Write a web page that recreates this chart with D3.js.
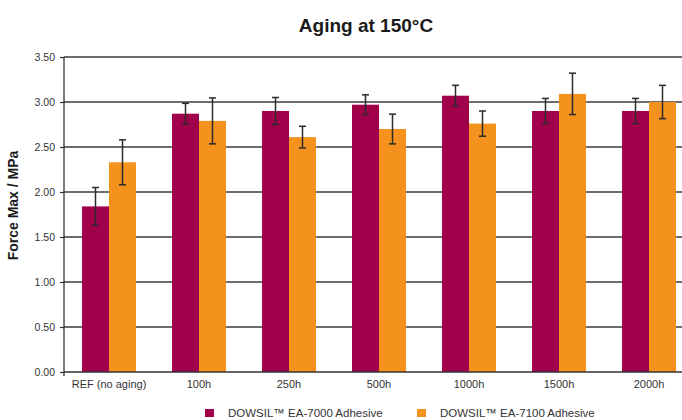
<!DOCTYPE html>
<html>
<head>
<meta charset="utf-8">
<script src="https://cdn.jsdelivr.net/npm/d3@7/dist/d3.min.js"></script>
<style>
  html, body { margin: 0; padding: 0; background: #fff; }
  svg { display: block; font-family: "Liberation Sans", Arial, Helvetica, sans-serif; }
</style>
</head>
<body>
<svg id="chart" width="682" height="420"></svg>
<script>
const categories = ["REF (no aging)", "100h", "250h", "500h", "1000h", "1500h", "2000h"];
const seriesNames = ["DOWSIL\u2122 EA-7000 Adhesive", "DOWSIL\u2122 EA-7100 Adhesive"];
const seriesColors = ["#A1004B", "#F5921E"];
const ea7000 = [1.84, 2.87, 2.90, 2.97, 3.07, 2.90, 2.90];
const ea7000Err = [0.21, 0.115, 0.15, 0.11, 0.115, 0.14, 0.14];
const ea7100 = [2.33, 2.79, 2.61, 2.70, 2.76, 3.09, 3.00];
const ea7100Err = [0.25, 0.255, 0.12, 0.165, 0.14, 0.23, 0.185];
const yTicks = [0, 0.5, 1.0, 1.5, 2.0, 2.5, 3.0, 3.5];
const title = "Aging at 150\u00B0C";
const yLabel = "Force Max / MPa";

(function () {
const values = [ea7000, ea7100];
const errors = [ea7000Err, ea7100Err];

const svg = d3.select("#chart");
const pLeft = 64, pRight = 682, pTop = 57, pBottom = 372;

const x0 = d3.scaleBand().domain(categories).range([pLeft, pLeft + 90 * categories.length]).padding(0);
const x1 = d3.scaleBand().domain(seriesNames).range([0, x0.bandwidth()]).paddingInner(0).paddingOuter(2 / 3);
const y = d3.scaleLinear().domain([0, 3.5]).range([pBottom, pTop]);

// Title
svg.append("text")
  .attr("x", 366).attr("y", 32)
  .attr("text-anchor", "middle")
  .attr("font-size", 19).attr("font-weight", "bold").attr("fill", "#1a1a1a")
  .text(title);

// Y label
svg.append("text")
  .attr("transform", `translate(18,${(pTop + pBottom) / 2 - 9}) rotate(-90)`)
  .attr("text-anchor", "middle")
  .attr("font-size", 14).attr("font-weight", "bold").attr("fill", "#1a1a1a")
  .text(yLabel);

// Gridlines
svg.append("g")
  .selectAll("line")
  .data(yTicks.filter(d => d > 0))
  .join("line")
  .attr("x1", pLeft).attr("x2", pRight)
  .attr("y1", d => y(d)).attr("y2", d => y(d))
  .attr("stroke", "#3c3c3c").attr("stroke-width", 1.5);

// Y axis
const yAxis = d3.axisLeft(y).tickValues(yTicks).tickFormat(d3.format(".2f")).tickSize(4).tickPadding(5);
const gy = svg.append("g").attr("transform", `translate(${pLeft},0)`).call(yAxis);
gy.select(".domain").remove();
gy.selectAll(".tick line").attr("stroke", "#333").attr("stroke-width", 1.2);
gy.selectAll(".tick text").attr("font-size", 10.5).attr("fill", "#333")
  .attr("font-family", "'Liberation Sans', Arial, sans-serif");
svg.append("line")
  .attr("x1", pLeft).attr("x2", pLeft).attr("y1", pTop).attr("y2", pBottom + 4)
  .attr("stroke", "#333").attr("stroke-width", 1.3);

// Bars
const groups = svg.append("g")
  .selectAll("g")
  .data(categories)
  .join("g")
  .attr("transform", d => `translate(${x0(d)},0)`);

seriesNames.forEach((s, si) => {
  groups.append("rect")
    .attr("x", x1(s))
    .attr("width", x1.bandwidth())
    .attr("y", (d, i) => y(values[si][i]))
    .attr("height", (d, i) => y(0) - y(values[si][i]))
    .attr("fill", seriesColors[si]);
});

// X axis line
svg.append("line")
  .attr("x1", pLeft).attr("x2", pRight).attr("y1", pBottom).attr("y2", pBottom)
  .attr("stroke", "#333").attr("stroke-width", 1.5);

// Error bars
seriesNames.forEach((s, si) => {
  const eg = groups.append("g").attr("stroke", "#2b2b2b").attr("stroke-width", 1.5);
  const cx = x1(s) + x1.bandwidth() / 2;
  eg.append("line")
    .attr("x1", cx).attr("x2", cx)
    .attr("y1", (d, i) => y(values[si][i] + errors[si][i]))
    .attr("y2", (d, i) => y(values[si][i] - errors[si][i]));
  eg.append("line")
    .attr("x1", cx - 3.5).attr("x2", cx + 3.5)
    .attr("y1", (d, i) => y(values[si][i] + errors[si][i]))
    .attr("y2", (d, i) => y(values[si][i] + errors[si][i]));
  eg.append("line")
    .attr("x1", cx - 3.5).attr("x2", cx + 3.5)
    .attr("y1", (d, i) => y(values[si][i] - errors[si][i]))
    .attr("y2", (d, i) => y(values[si][i] - errors[si][i]));
});

// X labels
svg.append("g")
  .selectAll("text")
  .data(categories)
  .join("text")
  .attr("x", d => x0(d) + x0.bandwidth() / 2)
  .attr("y", 388)
  .attr("text-anchor", "middle")
  .attr("font-size", 11).attr("fill", "#333")
  .text(d => d);

// Legend
const legendX = [205, 417];
seriesNames.forEach((s, si) => {
  svg.append("rect")
    .attr("x", legendX[si]).attr("y", 409).attr("width", 9).attr("height", 8)
    .attr("fill", seriesColors[si]);
  svg.append("text")
    .attr("x", legendX[si] + 23).attr("y", 417)
    .attr("font-size", 11.5).attr("fill", "#333")
    .text(s);
});
})();
</script>
</body>
</html>
